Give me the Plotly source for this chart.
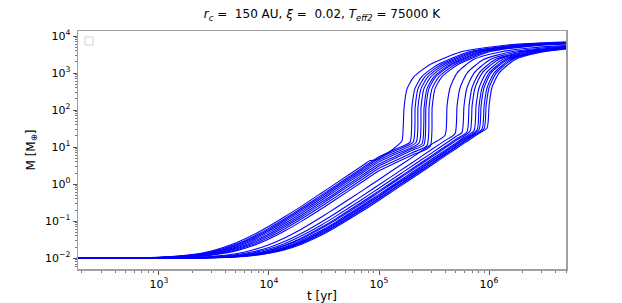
import plotly.graph_objects as go

# ---------------- data ----------------
# Group A: fast-growing cores (upper band), pre-runaway ramps
RAMP_A_T = [
    [184, 1e3, 2e3, 3e3, 5e3, 7e3, 1e4, 1.4e4, 2e4, 3e4, 4e4, 7e4, 8.3e4, 9.3e4, 1.05e5, 1.34e5, 1.52e5, 1.62e5],
    [184, 1e3, 2e3, 3e3, 5e3, 7e3, 1e4, 1.4e4, 2e4, 3e4, 4e4, 7e4, 1e5, 1.4e5, 1.91e5],
    [184, 1e3, 2e3, 3e3, 5e3, 7e3, 1e4, 1.4e4, 2e4, 3e4, 4e4, 7e4, 1e5, 1.4e5, 2.04e5],
    [184, 1e3, 2e3, 3e3, 5e3, 7e3, 1e4, 1.4e4, 2e4, 3e4, 4e4, 7e4, 1e5, 1.4e5, 2.17e5],
    [184, 1e3, 2e3, 3e3, 5e3, 7e3, 1e4, 1.4e4, 2e4, 3e4, 4e4, 7e4, 1e5, 1.4e5, 2.31e5],
    [184, 1e3, 2e3, 3e3, 5e3, 7e3, 1e4, 1.4e4, 2e4, 3e4, 4e4, 7e4, 1e5, 1.4e5, 2e5, 2.46e5],
    [184, 1e3, 2e3, 3e3, 5e3, 7e3, 1e4, 1.4e4, 2e4, 3e4, 4e4, 7e4, 1e5, 1.4e5, 2e5, 2.56e5],
    [184, 1e3, 2e3, 3e3, 5e3, 7e3, 1e4, 1.4e4, 2e4, 3e4, 4e4, 7e4, 1e5, 1.4e5, 2e5, 2.73e5],
    [184, 1e3, 2e3, 3e3, 5e3, 7e3, 1e4, 1.4e4, 2e4, 3e4, 4e4, 7e4, 1e5, 1.4e5, 2e5, 2.91e5],
]
RAMP_A_M = [
    [0.01, 0.0106, 0.0125, 0.0157, 0.0258, 0.0409, 0.073, 0.134, 0.26, 0.577, 1.02, 3.1, 4.35, 4.5, 5.3, 8.8, 12.0, 15.0],
    [0.01, 0.0106, 0.0122, 0.015, 0.0238, 0.037, 0.065, 0.118, 0.23, 0.505, 0.89, 2.7, 5.5, 8.8, 13.6],
    [0.01, 0.0105, 0.012, 0.0145, 0.0225, 0.0345, 0.06, 0.108, 0.21, 0.46, 0.81, 2.46, 5.0, 8.0, 13.6],
    [0.01, 0.01045, 0.0118, 0.014, 0.0213, 0.032, 0.055, 0.098, 0.19, 0.415, 0.73, 2.2, 4.5, 7.2, 13.3],
    [0.01, 0.0104, 0.0116, 0.0136, 0.02, 0.0296, 0.05, 0.088, 0.17, 0.37, 0.65, 1.97, 4.0, 6.4, 12.9],
    [0.01, 0.0104, 0.0114, 0.0132, 0.0188, 0.0272, 0.045, 0.079, 0.15, 0.325, 0.57, 1.73, 3.5, 5.6, 9.2, 12.3],
    [0.01, 0.0103, 0.0112, 0.0128, 0.0178, 0.0252, 0.041, 0.071, 0.134, 0.289, 0.51, 1.53, 3.1, 5.0, 8.2, 11.6],
    [0.01, 0.0103, 0.0111, 0.0124, 0.0168, 0.0232, 0.037, 0.063, 0.118, 0.253, 0.44, 1.33, 2.7, 4.3, 7.1, 11.0],
    [0.01, 0.0102, 0.0109, 0.0121, 0.0158, 0.0213, 0.033, 0.055, 0.102, 0.217, 0.38, 1.14, 2.3, 3.7, 6.1, 10.3],
]
# Group A: runaway gas accretion and plateau
RUN_A_T = [
    [1.69e5, 1.80e5, 2.08e5, 2.91e5, 5.69e5, 1.62e6, 5e6],
    [1.99e5, 2.12e5, 2.45e5, 3.43e5, 6.70e5, 1.91e6, 5e6],
    [2.13e5, 2.26e5, 2.62e5, 3.67e5, 7.16e5, 2.04e6, 5e6],
    [2.26e5, 2.41e5, 2.79e5, 3.90e5, 7.62e5, 2.17e6, 5e6],
    [2.41e5, 2.56e5, 2.97e5, 4.15e5, 8.11e5, 2.31e6, 5e6],
    [2.57e5, 2.73e5, 3.16e5, 4.42e5, 8.63e5, 2.46e6, 5e6],
    [2.67e5, 2.84e5, 3.29e5, 4.60e5, 8.99e5, 2.56e6, 5e6],
    [2.85e5, 3.03e5, 3.51e5, 4.91e5, 9.58e5, 2.73e6, 5e6],
    [3.04e5, 3.23e5, 3.74e5, 5.23e5, 1.02e6, 2.91e6, 5e6],
]
RUN_A_M = [
    [120, 380, 800, 1700, 3800, 5900, 6900],
    [120, 380, 800, 1700, 3800, 5900, 6800],
    [120, 380, 800, 1700, 3800, 5900, 6700],
    [120, 380, 800, 1700, 3800, 5850, 6600],
    [120, 380, 800, 1700, 3800, 5800, 6500],
    [120, 380, 800, 1700, 3800, 5750, 6400],
    [120, 380, 800, 1700, 3800, 5700, 6300],
    [120, 380, 800, 1700, 3800, 5650, 6200],
    [120, 380, 800, 1700, 3800, 5600, 6100],
]

# Group B: slower cores (lower band), pre-runaway ramps
_B0 = [184, 1e3, 2e3, 3e3, 5e3, 7e3, 1e4, 1.4e4, 2e4, 3e4, 4e4, 7e4, 1e5, 1.5e5, 2e5, 3e5]
RAMP_B_T = [
    _B0 + [3.98e5],
    _B0 + [4e5, 4.91e5],
    _B0 + [4e5, 5e5, 5.68e5],
    _B0 + [4e5, 5e5, 6.31e5],
    _B0 + [4e5, 5e5, 6.72e5],
    _B0 + [4e5, 5e5, 6e5, 7.31e5],
    _B0 + [4e5, 5e5, 6e5, 7.78e5],
    _B0 + [4e5, 5e5, 6e5, 8.11e5],
    _B0 + [4e5, 5e5, 6e5, 7e5, 8.64e5],
    _B0 + [4e5, 5e5, 6e5, 7e5, 9.01e5],
    _B0 + [4e5, 5e5, 6e5, 7e5, 8e5, 9.59e5],
]
RAMP_B_M = [
    [0.01, 0.0101, 0.0105, 0.0112, 0.0133, 0.0165, 0.0233, 0.036, 0.063, 0.13, 0.223, 0.66, 1.34, 3.0, 5.3, 12.0, 21],
    [0.01, 0.0101, 0.0104, 0.0109, 0.0124, 0.0147, 0.0195, 0.0286, 0.048, 0.0955, 0.162, 0.475, 0.96, 2.15, 3.8, 8.6, 15.2, 23],
    [0.01, 0.0101, 0.0103, 0.0107, 0.0119, 0.0138, 0.0177, 0.0251, 0.041, 0.079, 0.133, 0.387, 0.78, 1.74, 3.1, 6.9, 12.3, 19.3, 25],
    [0.01, 0.0101, 0.0103, 0.0106, 0.0116, 0.0132, 0.0165, 0.0227, 0.036, 0.0685, 0.114, 0.33, 0.66, 1.47, 2.6, 5.9, 10.4, 16.3, 26],
    [0.01, 0.0101, 0.0102, 0.0105, 0.0115, 0.0129, 0.016, 0.0218, 0.034, 0.064, 0.106, 0.30, 0.61, 1.36, 2.4, 5.4, 9.6, 15.0, 27],
    [0.01, 0.0101, 0.0102, 0.0105, 0.0113, 0.0126, 0.0152, 0.0202, 0.031, 0.0568, 0.093, 0.265, 0.53, 1.18, 2.09, 4.7, 8.3, 13.0, 18.7, 28],
    [0.01, 0.0101, 0.0102, 0.0104, 0.0112, 0.0124, 0.0148, 0.0194, 0.029, 0.0532, 0.087, 0.245, 0.49, 1.09, 1.93, 4.3, 7.7, 12.0, 17.3, 29],
    [0.01, 0.0101, 0.0102, 0.0104, 0.0111, 0.0122, 0.0146, 0.0189, 0.028, 0.051, 0.083, 0.233, 0.466, 1.04, 1.83, 4.1, 7.3, 11.4, 16.4, 30],
    [0.01, 0.0101, 0.0102, 0.0104, 0.011, 0.012, 0.0142, 0.0181, 0.0266, 0.0474, 0.076, 0.213, 0.425, 0.94, 1.67, 3.7, 6.6, 10.4, 14.9, 20.3, 31],
    [0.01, 0.0101, 0.0102, 0.0104, 0.011, 0.0119, 0.0139, 0.0177, 0.0258, 0.0455, 0.073, 0.203, 0.404, 0.90, 1.59, 3.56, 6.3, 9.9, 14.2, 19.3, 32],
    [0.01, 0.0101, 0.0101, 0.0103, 0.0109, 0.0118, 0.0136, 0.0171, 0.0244, 0.0424, 0.068, 0.186, 0.37, 0.82, 1.45, 3.25, 5.8, 9.0, 13.0, 17.6, 23.0, 33],
]
# Group B: runaway gas accretion and plateau
RUN_B_T = [
    [4.15e5, 4.42e5, 5.11e5, 7.15e5, 1.26e6, 2.62e6, 5e6],
    [5.12e5, 5.45e5, 6.31e5, 8.82e5, 1.55e6, 3.2e6, 5e6],
    [5.92e5, 6.30e5, 7.30e5, 1.02e6, 1.79e6, 5e6],
    [6.58e5, 7.00e5, 8.11e5, 1.13e6, 1.99e6, 5e6],
    [7.01e5, 7.46e5, 8.64e5, 1.21e6, 2.12e6, 5e6],
    [7.62e5, 8.11e5, 9.39e5, 1.31e6, 2.31e6, 5e6],
    [8.11e5, 8.64e5, 1.0e6, 1.40e6, 2.46e6, 5e6],
    [8.46e5, 9.0e5, 1.04e6, 1.46e6, 2.56e6, 5e6],
    [9.01e5, 9.59e5, 1.11e6, 1.55e6, 2.73e6, 5e6],
    [9.40e5, 1.0e6, 1.16e6, 1.62e6, 2.85e6, 5e6],
    [1.0e6, 1.06e6, 1.23e6, 1.72e6, 3.03e6, 5e6],
]
RUN_B_M = [
    [130, 400, 1000, 2300, 3700, 4900, 5500],
    [130, 400, 1000, 2300, 3700, 4800, 5300],
    [130, 400, 1000, 2300, 3700, 5100],
    [130, 400, 1000, 2300, 3700, 5000],
    [130, 400, 1000, 2300, 3700, 4900],
    [130, 400, 1000, 2300, 3700, 4800],
    [130, 400, 1000, 2300, 3700, 4700],
    [130, 400, 1000, 2300, 3700, 4650],
    [130, 400, 1000, 2300, 3700, 4600],
    [130, 400, 1000, 2300, 3700, 4550],
    [130, 400, 1000, 2300, 3700, 4500],
]

Y_TICK_VALS = [1e-2, 1e-1, 1e0, 1e1, 1e2, 1e3, 1e4]
Y_TICK_TEXT = ["10<sup>\u22122</sup>", "10<sup>\u22121</sup>", "10<sup>0</sup>", "10<sup>1</sup>",
               "10<sup>2</sup>", "10<sup>3</sup>", "10<sup>4</sup>"]
X_TICK_VALS = [1e3, 1e4, 1e5, 1e6]
X_TICK_TEXT = ["10<sup>3</sup>", "10<sup>4</sup>", "10<sup>5</sup>", "10<sup>6</sup>"]

TITLE = ("<i>r</i><sub><i>c</i></sub> =  150 AU, <i>\u03be</i> =  0.02, "
         "<i>T</i><sub><i>eff2</i></sub> = 75000 K")

# ---------------- figure ----------------
FONT = "DejaVu Sans, Liberation Sans, sans-serif"
LINE_COLOR = "#0000ff"
AXIS_COLOR = "#a0a0a0"

fig = go.Figure()

def add_curves(ramp_t, ramp_m, run_t, run_m):
    for rt, rm, ut, um in zip(ramp_t, ramp_m, run_t, run_m):
        if len(rt) != len(rm) or len(ut) != len(um):
            raise ValueError("length mismatch")
        fig.add_trace(go.Scatter(
            x=list(rt) + list(ut), y=list(rm) + list(um), mode="lines",
            line=dict(color=LINE_COLOR, width=1.1, shape="spline", smoothing=0.6),
            showlegend=False, hoverinfo="skip"))

add_curves(RAMP_A_T, RAMP_A_M, RUN_A_T, RUN_A_M)
add_curves(RAMP_B_T, RAMP_B_M, RUN_B_T, RUN_B_M)

minor_x = [m * 10 ** e for e in range(2, 7) for m in range(2, 10)]
minor_y = [m * 10.0 ** e for e in range(-3, 5) for m in range(2, 10)]

fig.update_layout(
    width=622, height=303,
    margin=dict(l=78, r=56, t=31, b=34),
    paper_bgcolor="white", plot_bgcolor="white",
    font=dict(family=FONT, size=11, color="black"),
    title=dict(text=TITLE, x=(78 + 566) / 2 / 622, xanchor="center",
               y=1 - 14 / 303, yanchor="middle", font=dict(size=12)),
    showlegend=False,
)
fig.update_xaxes(
    type="log", range=[2.265, 6.699], automargin=False,
    tickmode="array", tickvals=X_TICK_VALS, ticktext=X_TICK_TEXT,
    ticks="outside", ticklen=4, tickcolor="#555555", tickwidth=1,
    minor=dict(tickmode="array", tickvals=minor_x, ticks="outside", ticklen=2,
               tickcolor="#555555", tickwidth=0.8, showgrid=False),
    showgrid=False, zeroline=False,
    showline=True, linecolor=AXIS_COLOR, linewidth=1.5, mirror=True,
    title=dict(text="t [yr]", font=dict(size=12), standoff=3),
    tickfont=dict(size=11),
)
fig.update_yaxes(
    type="log", range=[-2.29, 4.135], automargin=False,
    tickmode="array", tickvals=Y_TICK_VALS, ticktext=Y_TICK_TEXT,
    ticks="outside", ticklen=4, tickcolor="#555555", tickwidth=1,
    minor=dict(tickmode="array", tickvals=minor_y, ticks="outside", ticklen=2,
               tickcolor="#555555", tickwidth=0.8, showgrid=False),
    showgrid=False, zeroline=False,
    showline=True, linecolor=AXIS_COLOR, linewidth=1.5, mirror=True,
    title=dict(text="M [M<sub>\u2295</sub>]", font=dict(size=12), standoff=7),
    tickfont=dict(size=11),
)
# empty legend frame (top-left)
fig.add_shape(type="rect", xref="paper", yref="paper",
              x0=(85 - 78) / 488, x1=(93 - 78) / 488,
              y0=1 - (45 - 31) / 238, y1=1 - (37 - 31) / 238,
              line=dict(color="#d0d0d0", width=1), fillcolor="rgba(0,0,0,0)")

fig.write_html(
    "out.html",
    config={"displayModeBar": False, "staticPlot": True},
    post_script="document.body.style.margin='0';document.body.style.padding='0';"
                "document.body.style.overflow='hidden';",
)
